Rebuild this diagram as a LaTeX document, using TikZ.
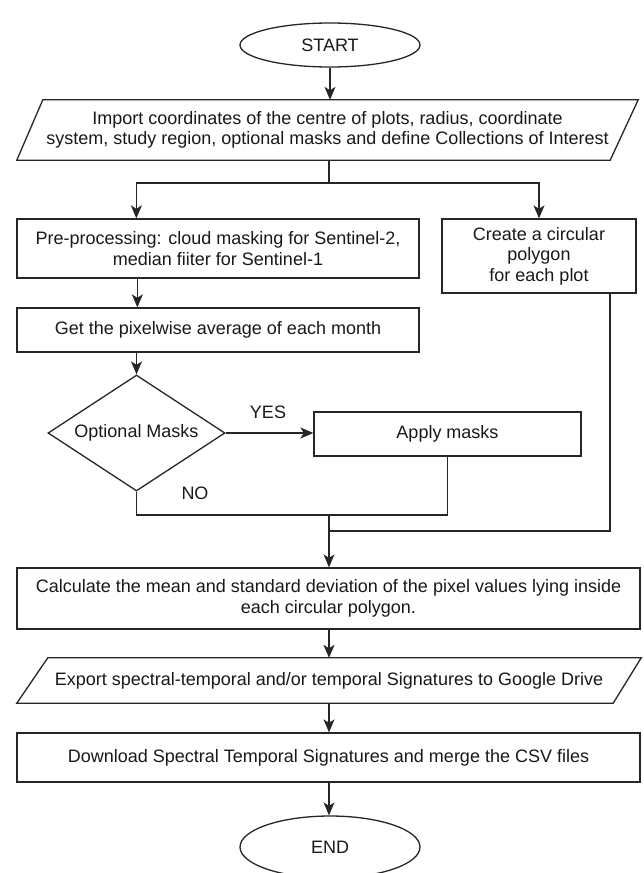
\documentclass[tikz,border=0pt]{standalone}
\usepackage{fontspec}
\setmainfont{Liberation Sans}
\usetikzlibrary{shapes.geometric,arrows.meta}
\begin{document}
\begin{tikzpicture}[x=1pt,y=-1pt,
  every node/.style={font=\fontsize{18}{20.5}\selectfont, text=black!90},
  box/.style={draw=black!85, line width=1.3pt, rectangle, inner sep=0pt, align=center},
  term/.style={draw=black!85, ellipse, line width=1.3pt, inner sep=0pt},
  io/.style={inner sep=0pt, align=center},
  dec/.style={draw=black!85, diamond, aspect=1.5, line width=1.3pt, inner sep=0pt},
  arr/.style={draw=black!85, -{Stealth[length=13pt,width=11pt,inset=3.5pt]}, line width=1.3pt},
  ln/.style={draw=black!85, line width=1.3pt}]
\clip (0,0) rectangle (643,873);
\fill[white] (0,0) rectangle (643,873);

\node[term, minimum width=180pt, minimum height=44pt] (start) at (330,45) {START};
\node[io, minimum width=621pt, minimum height=60pt] (imp) at (327.5,130)
  {Import coordinates of the centre of plots, radius, coordinate\\system, study region, optional masks and define Collections of Interest};
\draw[ln] ([xshift=26pt]imp.north west) -- (imp.north east) -- ([xshift=-28pt]imp.south east) -- (imp.south west) -- cycle;

\node[box, minimum width=402pt, minimum height=59pt] (pre) at (218,248.5)
  {Pre-processing: cloud masking for Sentinel-2,\\median fiiter for Sentinel-1};
\node[box, minimum width=194pt, minimum height=74pt] (circ) at (539,256)
  {Create a circular\\polygon\\for each plot};
\node[box, minimum width=402pt, minimum height=44pt] (get) at (218,330)
  {Get the pixelwise average of each month};
\node[dec, minimum width=177pt, minimum height=116pt] (dia) at (136.5,433) {Optional Masks};
\node[box, minimum width=267pt, minimum height=44pt] (apply) at (447.5,434) {Apply masks};
\node (yes) at (268,412) {YES};
\node (no) at (195,493) {NO};
\node[box, minimum width=623pt, minimum height=61pt] (calc) at (328.5,598.5)
  {Calculate the mean and standard deviation of the pixel values lying inside\\each circular polygon.};
\node[io, minimum width=624pt, minimum height=45pt] (exp) at (329,680.5)
  {Export spectral-temporal and/or temporal Signatures to Google Drive};
\draw[ln] ([xshift=31pt]exp.north west) -- (exp.north east) -- ([xshift=-28pt]exp.south east) -- (exp.south west) -- cycle;
\node[box, minimum width=623pt, minimum height=49pt] (dl) at (328.5,757.5)
  {Download Spectral Temporal Signatures and merge the CSV files};
\node[term, minimum width=180pt, minimum height=62pt] (endn) at (330,847) {END};

\coordinate (j1) at (329,183);
\coordinate (j2) at (329,515);
\coordinate (m1) at (447.5,515);
\coordinate (m2) at (329,531);

\draw[arr] (start.south) -- (start.south |- imp.north);
\draw[ln] (imp.south -| j1) -- (j1);
\draw[arr] (j1) -| ([xshift=120pt]pre.north west);
\draw[arr] (j1) -| (circ.north);
\draw[arr] ([xshift=121pt]pre.south west) -- ([xshift=121pt]get.north west);
\draw[arr] (get.south -| dia.north) -- (dia.north);
\draw[arr] (dia.east) -- (dia.east -| apply.west);
\draw[ln] (dia.south) |- (m1) -- (apply.south);
\draw[ln] ([xshift=71pt]circ.south) |- (m2);
\draw[arr] (j2) -- (j2 |- calc.north);
\draw[arr] (calc.south -| j1) -- (exp.north -| j1);
\draw[arr] (exp.south -| j1) -- (dl.north -| j1);
\draw[arr] (dl.south -| j1) -- (endn.north -| j1);
\end{tikzpicture}
\end{document}
